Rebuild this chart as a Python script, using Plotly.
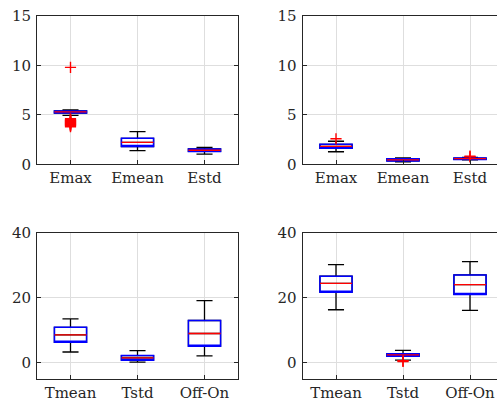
import plotly.graph_objects as go

# ---------------- data ----------------
cats_e = ["Emax", "Emean", "Estd"]
cats_t = ["Tmean", "Tstd", "Off-On"]

# panel 1 (top-left)
p1_lower = [4.95, 1.38, 1.02]
p1_q1 = [5.18, 1.80, 1.30]
p1_med = [5.30, 2.22, 1.42]
p1_q3 = [5.40, 2.63, 1.55]
p1_upper = [5.50, 3.30, 1.72]
p1_out_x = ["Emax"] * 16
p1_out_y = [9.8, 4.6, 4.5, 4.45, 4.4, 4.35, 4.3, 4.25, 4.2, 4.15, 4.1, 4.05, 4.0, 3.95, 3.9, 3.8]

# panel 2 (top-right)
p2_lower = [1.27, 0.24, 0.44]
p2_q1 = [1.62, 0.34, 0.49]
p2_med = [1.82, 0.45, 0.57]
p2_q3 = [2.02, 0.56, 0.63]
p2_upper = [2.33, 0.64, 0.70]
p2_out_x = ["Emax", "Estd", "Estd"]
p2_out_y = [2.58, 0.76, 0.82]

# panel 3 (bottom-left)
p3_lower = [3.3, 0.2, 2.1]
p3_q1 = [6.3, 0.8, 5.1]
p3_med = [8.6, 1.5, 9.0]
p3_q3 = [10.9, 2.2, 13.0]
p3_upper = [13.5, 3.7, 19.1]

# panel 4 (bottom-right)
p4_lower = [16.3, 0.8, 16.1]
p4_q1 = [21.7, 2.0, 21.0]
p4_med = [24.4, 2.4, 24.0]
p4_q3 = [26.6, 2.8, 27.0]
p4_upper = [30.2, 3.8, 31.1]
p4_out_x = ["Tstd", "Tstd"]
p4_out_y = [0.4, 0.6]

# ---------------- figure ----------------
W, H = 497, 403
fig = go.Figure()

AX = "#262626"
GRID = "#dedede"
FONT = dict(family="DejaVu Serif", size=15, color=AX)


def add_boxes(cats, lo, q1, med, q3, up, xa, ya):
    common = dict(x=cats, xaxis=xa, yaxis=ya, width=0.48, whiskerwidth=0.5,
                  fillcolor="rgba(0,0,0,0)", showlegend=False, hoverinfo="skip",
                  boxpoints=False)
    # whiskers (black)
    fig.add_trace(go.Box(q1=q1, median=med, q3=q3, lowerfence=lo, upperfence=up,
                         line=dict(color="black", width=1.3), **common))
    # box (blue)
    fig.add_trace(go.Box(q1=q1, median=q1, q3=q3, lowerfence=q1, upperfence=q3,
                         line=dict(color="#0000ff", width=1.5), **common))
    # median (red)
    fig.add_trace(go.Box(q1=med, median=med, q3=med, lowerfence=med, upperfence=med,
                         line=dict(color="#ff0000", width=1.3), **common))


def add_outliers(xs, ys, xa, ya):
    fig.add_trace(go.Scatter(x=xs, y=ys, xaxis=xa, yaxis=ya, mode="markers",
                             marker=dict(symbol="cross-thin", size=8,
                                         line=dict(color="#ff0000", width=1.4)),
                             showlegend=False, hoverinfo="skip"))


add_boxes(cats_e, p1_lower, p1_q1, p1_med, p1_q3, p1_upper, "x", "y")
add_outliers(p1_out_x, p1_out_y, "x", "y")
add_boxes(cats_e, p2_lower, p2_q1, p2_med, p2_q3, p2_upper, "x2", "y2")
add_outliers(p2_out_x, p2_out_y, "x2", "y2")
add_boxes(cats_t, p3_lower, p3_q1, p3_med, p3_q3, p3_upper, "x3", "y3")
add_boxes(cats_t, p4_lower, p4_q1, p4_med, p4_q3, p4_upper, "x4", "y4")
add_outliers(p4_out_x, p4_out_y, "x4", "y4")

left_dom = [37 / W, 238 / W]
right_dom = [302.5 / W, 1.0]
top_dom = [(H - 164.3) / H, (H - 16) / H]
bot_dom = [(H - 379) / H, (H - 232.7) / H]

xbase = dict(type="category", showline=True, linecolor=AX, linewidth=1, mirror=True,
             ticks="inside", ticklen=4, tickcolor=AX, showgrid=True, gridcolor=GRID,
             gridwidth=1, tickfont=FONT, zeroline=False, fixedrange=True,
             ticklabelstandoff=0, automargin=False)
ybase = dict(showline=True, linecolor=AX, linewidth=1, mirror="ticks",
             ticks="inside", ticklen=4, tickcolor=AX, showgrid=True, gridcolor=GRID,
             gridwidth=1, tickfont=FONT, zeroline=False, fixedrange=True,
             ticklabelstandoff=2, automargin=False)

# right-hand panels are cut off at the window edge: keep the scale, open right side
right_range = [-0.5, -0.5 + (W - 302.5) / 67.0]

fig.update_layout(
    width=W, height=H, margin=dict(l=0, r=0, t=0, b=0),
    paper_bgcolor="white", plot_bgcolor="white", boxmode="overlay",
    font=FONT,
    xaxis=dict(xbase, domain=left_dom, anchor="y", range=[-0.5, 2.5]),
    yaxis=dict(ybase, domain=top_dom, anchor="x", range=[0, 15], tickvals=[0, 5, 10, 15]),
    xaxis2=dict(xbase, domain=right_dom, anchor="y2", range=right_range),
    yaxis2=dict(ybase, domain=top_dom, anchor="x2", range=[0, 15], tickvals=[0, 5, 10, 15],
                mirror=False),
    xaxis3=dict(xbase, domain=left_dom, anchor="y3", range=[-0.5, 2.5]),
    yaxis3=dict(ybase, domain=bot_dom, anchor="x3", range=[-5, 40], tickvals=[0, 20, 40]),
    xaxis4=dict(xbase, domain=right_dom, anchor="y4", range=right_range),
    yaxis4=dict(ybase, domain=bot_dom, anchor="x4", range=[-5, 40], tickvals=[0, 20, 40],
                mirror=False),
)

fig.write_html("out.html", config={"displayModeBar": False})
